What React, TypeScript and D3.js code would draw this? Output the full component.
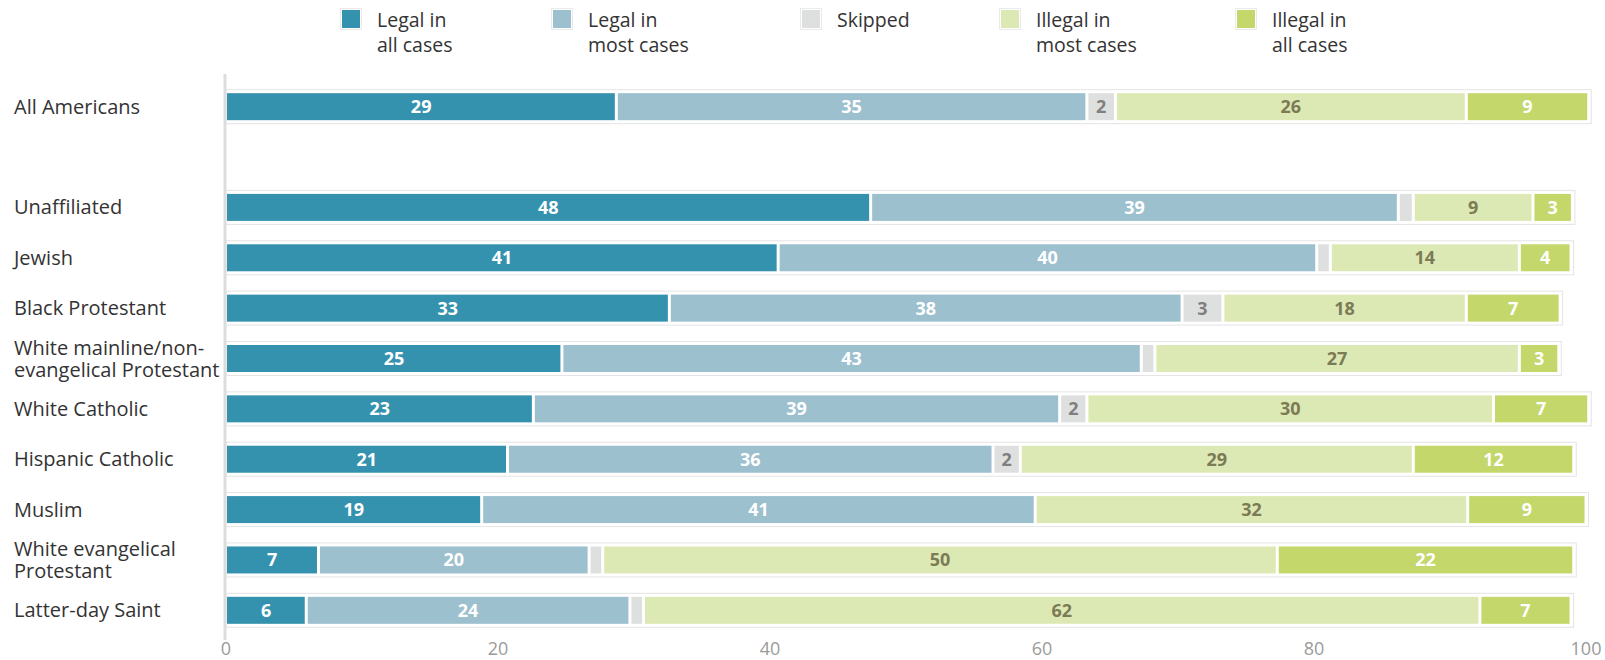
import React from "react";
import * as d3 from "d3";

// categories (the "" slot is the blank row below All Americans)
const groups = [
  "All Americans",
  "",
  "Unaffiliated",
  "Jewish",
  "Black Protestant",
  "White mainline/non-|evangelical Protestant",
  "White Catholic",
  "Hispanic Catholic",
  "Muslim",
  "White evangelical|Protestant",
  "Latter-day Saint",
];

const seriesNames = ["Legal in|all cases", "Legal in|most cases", "Skipped", "Illegal in|most cases", "Illegal in|all cases"];

// widths
const legalAll = [28.7, 47.4, 40.6, 32.6, 24.7, 22.6, 20.7, 18.8, 6.8, 5.9];
const legalMost = [34.6, 38.8, 39.6, 37.7, 42.6, 38.7, 35.7, 40.7, 19.9, 23.8];
const skipped = [2.1, 1.1, 1.0, 3.0, 1.0, 2.0, 2.0, 0, 1.0, 1.0];
const illegalMost = [25.8, 8.8, 13.9, 17.9, 26.8, 29.9, 28.9, 31.8, 49.6, 61.5];
const illegalAll = [9.0, 2.9, 3.8, 6.9, 2.9, 7.0, 11.8, 8.7, 21.8, 6.7];

// printed numbers
const legalAllLabels = ["29", "48", "41", "33", "25", "23", "21", "19", "7", "6"];
const legalMostLabels = ["35", "39", "40", "38", "43", "39", "36", "41", "20", "24"];
const skippedLabels = ["2", "", "", "3", "", "2", "2", "", "", ""];
const illegalMostLabels = ["26", "9", "14", "18", "27", "30", "29", "32", "50", "62"];
const illegalAllLabels = ["9", "3", "4", "7", "3", "7", "12", "9", "22", "7"];

const ticks = [0, 20, 40, 60, 80, 100];

const colors = ["#3492ae", "#9dc0cf", "#dedfdf", "#dde9b4", "#c3d76b"];
const textColors = ["#ffffff", "#ffffff", "#7f7f7f", "#7b7b55", "#ffffff"];

const W = 1605;
const H = 660;
const FONT = "'Open Sans', 'Noto Sans', sans-serif";

export default function App() {
  const x = d3.scaleLinear().domain([0, 100]).range([226, 1586]);
  const y = d3
    .scaleBand<string>()
    .domain(groups.map((g, i) => String(i)))
    .range([81.5, 635.5])
    .paddingInner(0.464)
    .paddingOuter(0.232);
  const bh = y.bandwidth();

  const values = [legalAll, legalMost, skipped, illegalMost, illegalAll];
  const labels = [legalAllLabels, legalMostLabels, skippedLabels, illegalMostLabels, illegalAllLabels];
  const rows = groups.filter((g) => g !== "").map((g) => groups.indexOf(g));

  const legendX = [341, 552, 801, 1000, 1236];

  return (
    <svg width={W} height={H} style={{ position: "absolute", left: 0, top: 0 }} fontFamily={FONT}>
      <rect width={W} height={H} fill="#fff" />

      {/* legend */}
      {seriesNames.map((s, i) => (
        <g key={s} transform={`translate(${legendX[i]},0)`}>
          <rect x={-0.5} y={8.5} width={21} height={21} fill="#fff" stroke="#eaeaea" />
          <rect x={1} y={10} width={18} height={18} fill={colors[i]} />
          {s.split("|").map((t, j) => (
            <text key={j} x={36} y={27 + j * 25} fontSize={19.5} fill="#333">
              {t}
            </text>
          ))}
        </g>
      ))}

      {/* category labels */}
      {rows.map((gi) => {
        const lines = groups[gi].split("|");
        const cy = (y(String(gi)) as number) + bh / 2;
        return (
          <text key={gi} x={14} fontSize={20} fill="#333">
            {lines.map((t, j) => (
              <tspan key={j} x={14} y={cy + 7 + (j - (lines.length - 1) / 2) * 22}>
                {t}
              </tspan>
            ))}
          </text>
        );
      })}

      {/* bars */}
      {rows.map((gi, r) => {
        const y0 = y(String(gi)) as number;
        let acc = 0;
        const segs = values.map((v, k) => {
          const s = acc;
          acc += v[r];
          return { k, s, e: acc, label: labels[k][r] };
        });
        return (
          <g key={gi}>
            <rect
              x={x(0)}
              y={y0 - 3.5}
              width={x(acc) - x(0) + 2.5}
              height={bh + 7}
              fill="#fff"
              stroke="#e4e4e4"
            />
            {segs
              .filter((d) => d.e > d.s)
              .map((d) => (
                <g key={d.k}>
                  <rect
                    x={x(d.s) + (d.s === 0 ? 1 : 1.5)}
                    y={y0}
                    width={Math.max(0, x(d.e) - x(d.s) - (d.s === 0 ? 2.5 : 3))}
                    height={bh}
                    fill={colors[d.k]}
                  />
                  {d.label && (
                    <text
                      x={(x(d.s) + x(d.e)) / 2}
                      y={y0 + bh / 2}
                      dy="0.36em"
                      textAnchor="middle"
                      fontSize={18}
                      fontWeight={700}
                      fill={textColors[d.k]}
                    >
                      {d.label}
                    </text>
                  )}
                </g>
              ))}
          </g>
        );
      })}

      {/* axis */}
      <line x1={225} x2={225} y1={74} y2={640} stroke="#dddddd" strokeWidth={3} />
      {ticks.map((t) => (
        <text key={t} x={x(t)} y={655} textAnchor="middle" fontSize={18} fill="#9a9a9a">
          {t}
        </text>
      ))}
    </svg>
  );
}
